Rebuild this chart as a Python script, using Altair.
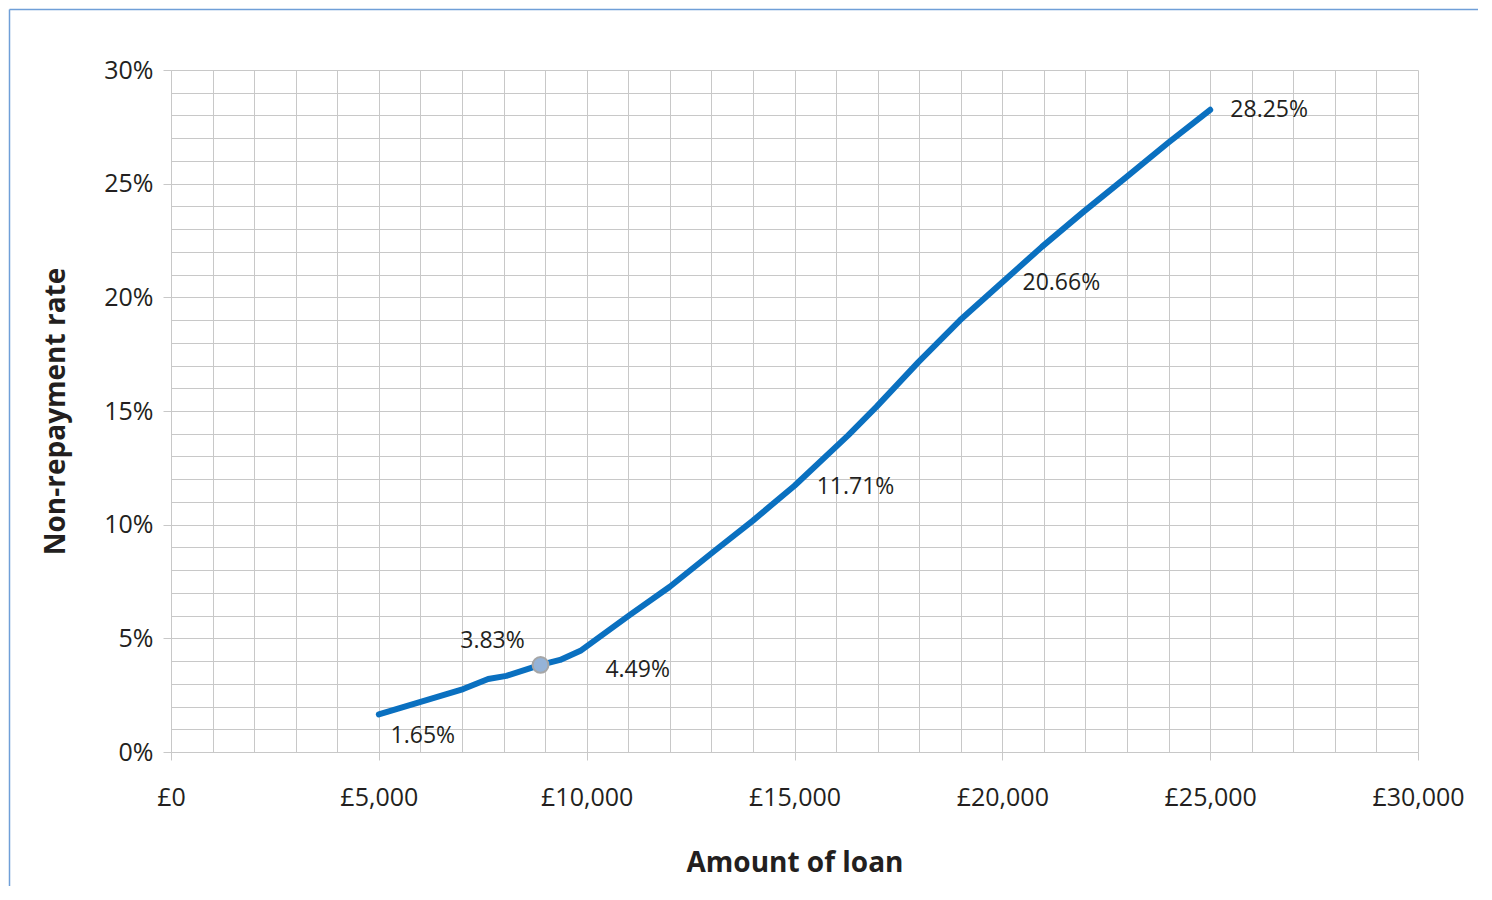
import altair as alt
import pandas as pd

# Line data (loan amount in £, non-repayment rate in %)
loan = [5000, 7030, 7630, 8070, 8890, 9360, 9850, 11040, 12000, 13050, 14000,
        15000, 16290, 16970, 17980, 18980, 20000, 20950, 21950, 22990, 23990, 25000]
rate = [1.65, 2.77, 3.21, 3.35, 3.83, 4.05, 4.45, 6.03, 7.27, 8.81, 10.18,
        11.71, 13.93, 15.18, 17.15, 18.99, 20.66, 22.22, 23.76, 25.3, 26.8, 28.25]

# Highlighted point
marker_loan = [8890]
marker_rate = [3.83]

# Data labels
label_loan = [5000, 8890, 10000, 15000, 20000, 25000]
label_rate = [1.65, 3.83, 4.49, 11.71, 20.66, 28.25]
label_text = ["1.65%", "3.83%", "4.49%", "11.71%", "20.66%", "28.25%"]
label_dx = [44, -48, 51, 61, 59, 59]
label_dy = [22, -24, 20, 1, 1, 0]

x_ticks = list(range(0, 30001, 1000))
y_ticks = list(range(0, 31, 1))

line_df = pd.DataFrame({"loan": loan, "rate": rate})
marker_df = pd.DataFrame({"loan": marker_loan, "rate": marker_rate})

FONT = "Open Sans"
TEXT_COLOR = "#231f20"
GRID = "#c8c8c8"

x_scale = alt.Scale(domain=[0, 30000], nice=False, zero=False)
y_scale = alt.Scale(domain=[0, 30], nice=False)

x_axis = alt.Axis(
    values=x_ticks,
    labelExpr="datum.value % 5000 === 0 ? '£' + format(datum.value, ',') : ''",
    tickOpacity={"condition": {"test": "datum.value % 5000 === 0", "value": 1}, "value": 0},
    title="Amount of loan",
    labelFlush=False,
    labelOverlap=False,
    tickSize=8,
    labelPadding=25,
    titlePadding=39,
)
y_axis = alt.Axis(
    values=y_ticks,
    labelExpr="datum.value % 5 === 0 ? datum.value + '%' : ''",
    tickOpacity={"condition": {"test": "datum.value % 5 === 0", "value": 1}, "value": 0},
    title="Non-repayment rate",
    labelOverlap=False,
    tickSize=8,
    labelPadding=10,
    titlePadding=33,
)

X = alt.X("loan:Q", scale=x_scale, axis=x_axis)
Y = alt.Y("rate:Q", scale=y_scale, axis=y_axis)

line = alt.Chart(line_df).mark_line(
    color="#0a70c0", strokeWidth=6, strokeCap="round", strokeJoin="round"
).encode(x=X, y=Y)

marker = alt.Chart(marker_df).mark_point(
    filled=True, fill="#95b3d7", stroke="#a6a6a6", strokeWidth=2, size=250, opacity=1
).encode(x=X, y=Y)

label_layers = []
for lx, ly, lt, dx, dy in zip(label_loan, label_rate, label_text, label_dx, label_dy):
    df = pd.DataFrame({"loan": [lx], "rate": [ly], "text": [lt]})
    label_layers.append(
        alt.Chart(df).mark_text(
            font=FONT, fontSize=23, color=TEXT_COLOR, dx=dx, dy=dy,
            align="center", baseline="middle",
        ).encode(x=X, y=Y, text="text:N")
    )

# Outer frame (left and top edges of the chart border)
frame_left = alt.Chart(pd.DataFrame({"a": [0]})).mark_rule(color="#6f9fd8", strokeWidth=1.5).encode(
    x=alt.value(-161.5), y=alt.value(-60.5), y2=alt.value(850)
)
frame_top = alt.Chart(pd.DataFrame({"a": [0]})).mark_rule(color="#6f9fd8", strokeWidth=1.5).encode(
    x=alt.value(-161.5), x2=alt.value(1320), y=alt.value(-60.5)
)

chart = alt.layer(line, marker, *label_layers, frame_left, frame_top).properties(
    width=1247,
    height=682,
    padding={"left": 163, "top": 62, "right": 60, "bottom": 134},
    autosize=alt.AutoSizeParams(type="none"),
    background="white",
).configure_view(
    stroke=None
).configure_axis(
    grid=True,
    gridColor=GRID,
    gridWidth=1,
    domainColor=GRID,
    domainWidth=1,
    tickColor=GRID,
    tickWidth=1,
    labelFont=FONT,
    labelFontSize=25,
    labelColor=TEXT_COLOR,
    titleFont=FONT,
    titleFontSize=28,
    titleFontWeight="bold",
    titleColor=TEXT_COLOR,
)

chart.save("out.html", embed_options={"renderer": "svg", "actions": False})
